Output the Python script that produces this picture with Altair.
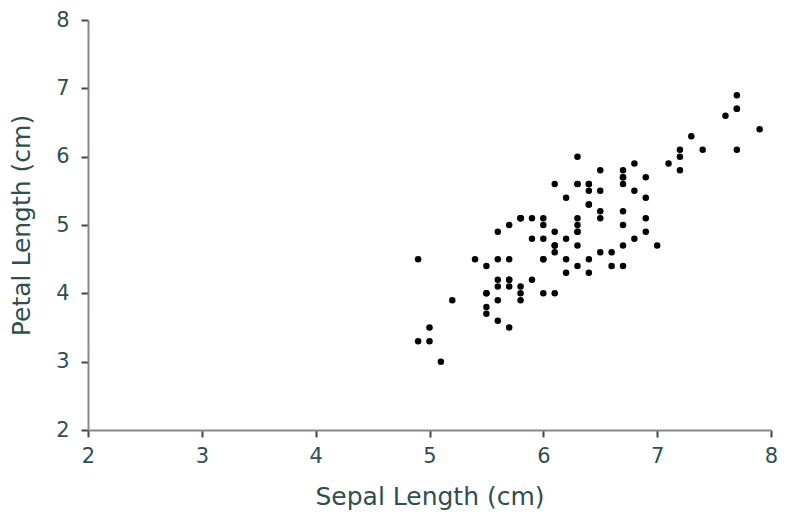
import altair as alt
import pandas as pd

sepal_length = [
    7.0, 6.4, 6.9, 5.5, 6.5, 5.7, 6.3, 4.9, 6.6, 5.2, 5.0, 5.9, 6.0, 6.1, 5.6, 6.7, 5.6, 5.8, 6.2, 5.6,
    5.9, 6.1, 6.3, 6.1, 6.4, 6.6, 6.8, 6.7, 6.0, 5.7, 5.5, 5.5, 5.8, 6.0, 5.4, 6.0, 6.7, 6.3, 5.6, 5.5,
    5.5, 6.1, 5.8, 5.0, 5.6, 5.7, 5.7, 6.2, 5.1, 5.7,
    6.3, 5.8, 7.1, 6.3, 6.5, 7.6, 4.9, 7.3, 6.7, 7.2, 6.5, 6.4, 6.8, 5.7, 5.8, 6.4, 6.5, 7.7, 7.7, 6.0,
    6.9, 5.6, 7.7, 6.3, 6.7, 7.2, 6.2, 6.1, 6.4, 7.2, 7.4, 7.9, 6.4, 6.3, 6.1, 7.7, 6.3, 6.4, 6.0, 6.9,
    6.7, 6.9, 5.8, 6.8, 6.7, 6.7, 6.3, 6.5, 6.2, 5.9,
]
petal_length = [
    4.7, 4.5, 4.9, 4.0, 4.6, 4.5, 4.7, 3.3, 4.6, 3.9, 3.5, 4.2, 4.0, 4.7, 3.6, 4.4, 4.5, 4.1, 4.5, 3.9,
    4.8, 4.0, 4.9, 4.7, 4.3, 4.4, 4.8, 5.0, 4.5, 3.5, 3.8, 3.7, 3.9, 5.1, 4.5, 4.5, 4.7, 4.4, 4.1, 4.0,
    4.4, 4.6, 4.0, 3.3, 4.2, 4.2, 4.2, 4.3, 3.0, 4.1,
    6.0, 5.1, 5.9, 5.6, 5.8, 6.6, 4.5, 6.3, 5.8, 6.1, 5.1, 5.3, 5.5, 5.0, 5.1, 5.3, 5.5, 6.7, 6.9, 5.0,
    5.7, 4.9, 6.7, 4.9, 5.7, 6.0, 4.8, 4.9, 5.6, 5.8, 6.1, 6.4, 5.6, 5.1, 5.6, 6.1, 5.6, 5.5, 4.8, 5.4,
    5.6, 5.1, 5.1, 5.9, 5.7, 5.2, 5.0, 5.2, 5.4, 5.1,
]
tick_values = [2, 3, 4, 5, 6, 7, 8]

df = pd.DataFrame({"sepal": sepal_length, "petal": petal_length})

TXT = "#2F4F4F"
FONT = "DejaVu Sans"

axis_common = dict(
    grid=False,
    domainColor="#888888",
    domainWidth=2,
    tickColor=TXT,
    tickWidth=2,
    tickSize=7,
    labelColor=TXT,
    labelFont=FONT,
    labelFontSize=21,
    labelOverlap=False,
    labelFlush=False,
    titleColor=TXT,
    titleFont=FONT,
    titleFontSize=25,
    titleFontWeight="normal",
    values=tick_values,
)

chart = (
    alt.Chart(df)
    .mark_circle(size=42, color="black", opacity=1)
    .encode(
        x=alt.X("sepal:Q", title="Sepal Length (cm)",
                scale=alt.Scale(domain=[2, 8], nice=False, zero=False),
                axis=alt.Axis(labelPadding=8, titlePadding=18, **axis_common)),
        y=alt.Y("petal:Q", title="Petal Length (cm)",
                scale=alt.Scale(domain=[2, 8], nice=False, zero=False),
                axis=alt.Axis(labelPadding=12, titlePadding=21, **axis_common)),
    )
    .properties(
        width=683,
        height=410,
        autosize=alt.AutoSizeParams(type="none"),
        padding={"left": 80, "top": 12, "right": 7, "bottom": 80},
        background="white",
    )
    .configure_view(stroke=None)
)

chart.save("out.html", embed_options={"renderer": "svg", "actions": False})
